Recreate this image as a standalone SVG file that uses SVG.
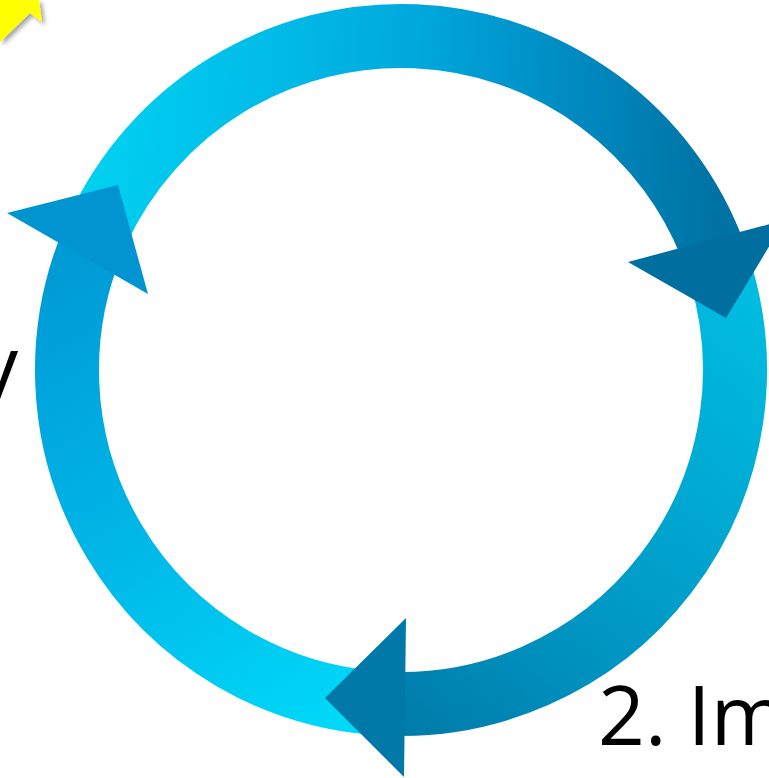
<svg xmlns="http://www.w3.org/2000/svg" width="769" height="778" viewBox="0 0 769 778">
  <style>
    .ring { fill: none; stroke-width: 64; }
    .label { font-family: "Open Sans", "Liberation Sans", sans-serif; fill: #000000; }
  </style>
  <defs>
    <linearGradient id="g1" gradientUnits="userSpaceOnUse" x1="371" y1="703" x2="93" y2="240">
      <stop offset="0" stop-color="#00D8F8"/>
      <stop offset="0.5" stop-color="#00B6E7"/>
      <stop offset="0.85" stop-color="#00A2DB"/>
      <stop offset="1" stop-color="#009AD5"/>
    </linearGradient>
    <linearGradient id="g2" gradientUnits="userSpaceOnUse" x1="98" y1="229" x2="715" y2="256">
      <stop offset="0" stop-color="#00CFF0"/>
      <stop offset="0.25" stop-color="#00BDE8"/>
      <stop offset="0.5" stop-color="#00A8DC"/>
      <stop offset="0.75" stop-color="#008BC2"/>
      <stop offset="1" stop-color="#0072A3"/>
    </linearGradient>
    <linearGradient id="g3" gradientUnits="userSpaceOnUse" x1="720" y1="272" x2="389" y2="704">
      <stop offset="0" stop-color="#00BCE0"/>
      <stop offset="0.4" stop-color="#00A6D0"/>
      <stop offset="0.75" stop-color="#0090BE"/>
      <stop offset="1" stop-color="#007DAB"/>
    </linearGradient>
    <filter id="shadow" x="-20%" y="-20%" width="160%" height="160%">
      <feGaussianBlur in="SourceAlpha" stdDeviation="2"/>
      <feOffset dx="3" dy="3" result="b"/>
      <feFlood flood-color="#000000" flood-opacity="0.35"/>
      <feComposite in2="b" operator="in"/>
      <feMerge><feMergeNode/><feMergeNode in="SourceGraphic"/></feMerge>
    </filter>
  </defs>

  <g id="yellow-arrow">
    <polygon points="0,0 39,0 42,22 30,13 0,42" fill="#FFFF00" filter="url(#shadow)"/>
  </g>

  <g id="connectors">
    <path class="ring" stroke="url(#g1)" d="M371.89,702.73 A334,334 0 0 1 93.55,239.50"/>
    <path class="ring" stroke="url(#g2)" d="M98.29,228.85 A334,334 0 0 1 714.86,255.77"/>
    <path class="ring" stroke="url(#g3)" d="M720.40,272.35 A334,334 0 0 1 389.34,703.80"/>
    <polygon id="head-left" points="7,213 118,185 148,294" fill="#0094D0"/>
    <polygon id="head-right" points="628,262 785,220 726,318" fill="#006E9E"/>
    <polygon id="head-bottom" points="406,618 325,698 404,777" fill="#0079A8"/>
  </g>

  <g id="label-left">
    <text class="label" x="18" y="395" font-size="82" text-anchor="end">y</text>
  </g>
  <g id="label-bottom">
    <text class="label" x="598" y="745" font-size="82">2. Im</text>
  </g>
</svg>
